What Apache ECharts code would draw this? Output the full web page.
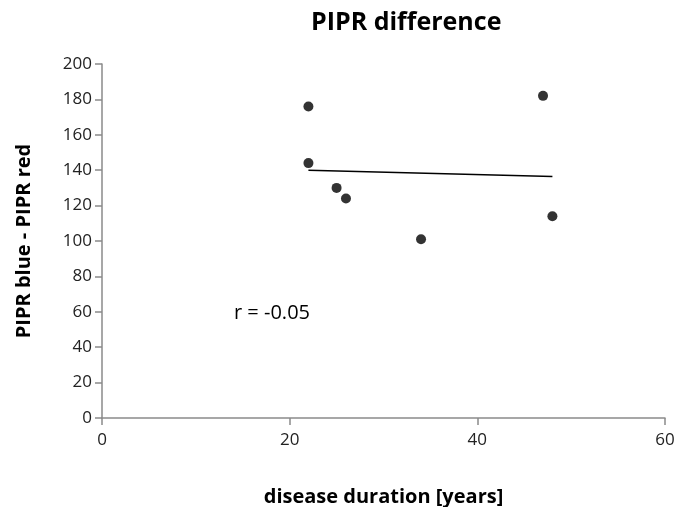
<!DOCTYPE html>
<html><head><meta charset="utf-8">
<script src="https://cdn.jsdelivr.net/npm/echarts@6/dist/echarts.min.js"></script>
<style>html,body{margin:0;padding:0;background:#fff}#c{width:686px;height:507px}</style>
</head><body><div id="c"></div>
<script>
const durationYears = [22, 22, 25, 26, 34, 47, 48];
const piprDiff = [176, 144, 130, 124, 101, 182, 114];
const trendX = [22, 48];
const trendY = [140, 136.5];
const xTicks = [0, 20, 40, 60];
const yTicks = [0, 20, 40, 60, 80, 100, 120, 140, 160, 180, 200];

const font = '"Open Sans", "Liberation Sans", sans-serif';
const chart = echarts.init(document.getElementById('c'), null, {renderer: 'canvas'});
chart.setOption({
  animation: false,
  backgroundColor: '#fff',
  title: {
    text: 'PIPR difference', left: 306, top: 5,
    textStyle: {fontFamily: font, fontSize: 25, fontWeight: 'bold', color: '#000'}
  },
  grid: {left: 102, right: 21, top: 64, bottom: 89, containLabel: false, outerBoundsMode: 'none'},
  xAxis: {
    type: 'value', min: xTicks[0], max: xTicks[xTicks.length - 1], interval: 20,
    name: 'disease duration [years]', nameLocation: 'middle', nameGap: 69,
    nameTextStyle: {fontFamily: font, fontSize: 20, fontWeight: 'bold', color: '#000'},
    axisLine: {show: true, lineStyle: {color: '#8a8a8a', width: 1.5}},
    axisTick: {show: true, length: 7, lineStyle: {color: '#8a8a8a', width: 1.5}},
    axisLabel: {fontFamily: font, fontSize: 17, color: '#222', margin: 14},
    splitLine: {show: false}
  },
  yAxis: {
    type: 'value', min: yTicks[0], max: yTicks[yTicks.length - 1], interval: 20,
    name: 'PIPR blue - PIPR red', nameLocation: 'middle', nameGap: 68, nameRotate: 90,
    nameTextStyle: {fontFamily: font, fontSize: 20, fontWeight: 'bold', color: '#000'},
    axisLine: {show: true, onZero: false, lineStyle: {color: '#8a8a8a', width: 1.5}},
    axisTick: {show: true, length: 7, lineStyle: {color: '#8a8a8a', width: 1.5}},
    axisLabel: {fontFamily: font, fontSize: 17, color: '#222', margin: 10},
    splitLine: {show: false}
  },
  series: [
    {
      type: 'scatter', symbol: 'circle', symbolSize: 10,
      itemStyle: {color: '#000'},
      data: durationYears.map((x, i) => [x, piprDiff[i]]),
      z: 3
    },
    {
      type: 'line', symbol: 'none', silent: true,
      lineStyle: {color: '#000', width: 1.5},
      data: trendX.map((x, i) => [x, trendY[i]]),
      z: 2
    }
  ],
  graphic: [{
    type: 'text', left: 234, top: 303,
    style: {text: 'r = -0.05', font: '20px ' + font, fill: '#000'}
  }]
});
</script></body></html>
